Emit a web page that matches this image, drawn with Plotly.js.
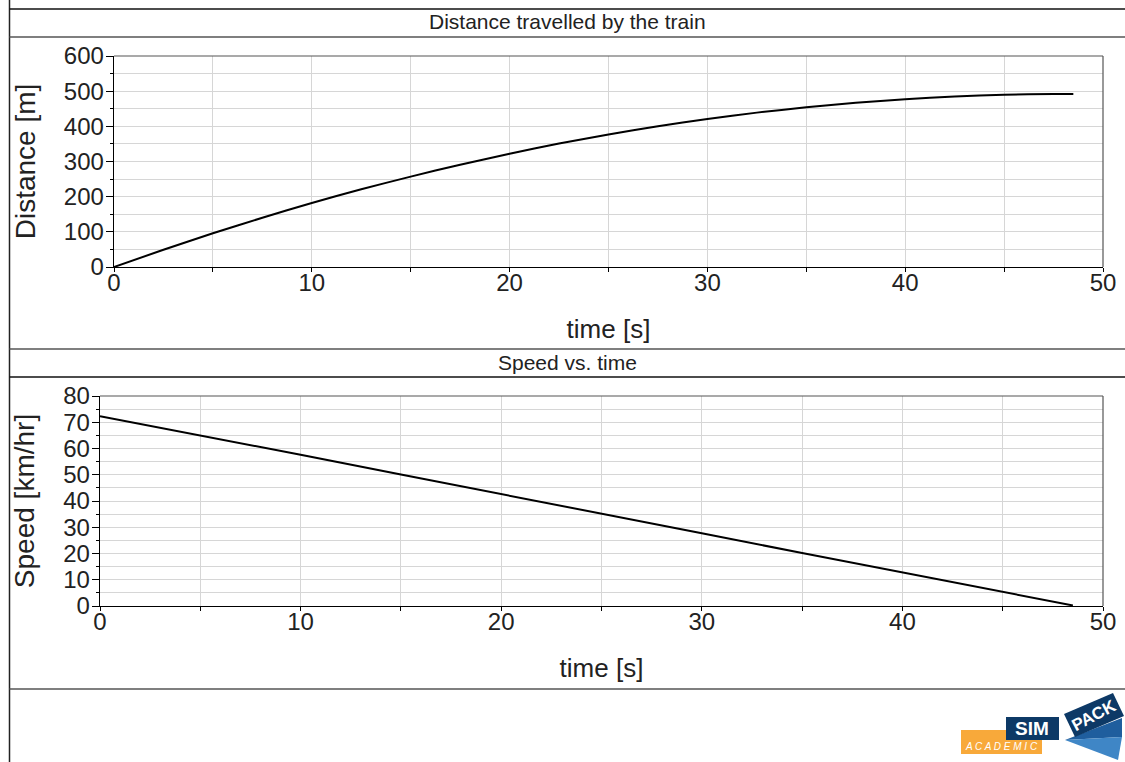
<!DOCTYPE html>
<html>
<head>
<meta charset="utf-8">
<script src="https://cdn.plot.ly/plotly-3.0.1.min.js"></script>
<style>
html,body{margin:0;padding:0;background:#fff;}
#chart{width:1125px;height:762px;}
</style>
</head>
<body>
<div id="chart"></div>
<script>
// ---- data ----
const timeDist = [0, 2.5, 5, 7.5, 10, 12.5, 15, 17.5, 20, 22.5, 25, 27.5, 30, 32.5, 35, 37.5, 40, 42.5, 45, 47.5, 48.5];
const distance = [0, 49, 96, 140, 182, 221, 257, 291, 322, 351, 377, 400, 421, 439, 454, 467, 477, 485, 490, 492, 492];
const timeSpeed = [0, 5, 10, 15, 20, 25, 30, 35, 40, 45, 48.5];
const speed = [72.3, 65.0, 57.6, 50.1, 42.7, 35.2, 27.7, 20.2, 12.7, 5.3, 0.2];
const topTitle = "Distance travelled by the train";
const bottomTitle = "Speed vs. time";
const xTitle = "time [s]";
const yTitleTop = "Distance [m]";
const yTitleBottom = "Speed [km/hr]";

const W = 1125, H = 762;
const px = x => x / W;
const py = y => 1 - y / H;

const FONT = "Liberation Sans, Arial, sans-serif";
const tickFont = {family: FONT, size: 24, color: "#222"};
const gridC = "#d6d6d6";

function xaxisDef(anchor, domain) {
  return {
    domain: domain, anchor: anchor, range: [0, 50], dtick: 10, tick0: 0,
    showline: true, linecolor: "#000", linewidth: 1.3,
    ticks: "outside", ticklen: 4, tickcolor: "#000", tickwidth: 1,
    showgrid: true, gridcolor: gridC, gridwidth: 1,
    minor: {dtick: 5, ticks: "outside", ticklen: 4, tickcolor: "#000", showgrid: true, gridcolor: gridC},
    zeroline: false, tickfont: tickFont, ticklabelstandoff: -10,
    title: {text: xTitle, font: {family: FONT, size: 26, color: "#222"}, standoff: 24},
    fixedrange: true
  };
}
function yaxisDef(anchor, domain, range, dtick, mdtick, title) {
  return {
    domain: domain, anchor: anchor, range: range, dtick: dtick, tick0: 0,
    showline: true, linecolor: "#000", linewidth: 1.3,
    ticks: "outside", ticklen: 7, tickcolor: "#000", tickwidth: 1,
    showgrid: true, gridcolor: gridC, gridwidth: 1,
    minor: {dtick: mdtick, ticks: "outside", ticklen: 3, tickcolor: "#000", showgrid: true, gridcolor: gridC},
    zeroline: false, tickfont: tickFont, ticklabelstandoff: -3,
    title: {text: title, font: {family: FONT, size: 28, color: "#222"}, standoff: 20},
    fixedrange: true
  };
}

const traces = [
  {x: timeDist, y: distance, xaxis: "x", yaxis: "y", type: "scatter", mode: "lines",
   line: {color: "#000", width: 2, shape: "spline", smoothing: 0.6}, hoverinfo: "x+y"},
  {x: timeSpeed, y: speed, xaxis: "x2", yaxis: "y2", type: "scatter", mode: "lines",
   line: {color: "#000", width: 2}, hoverinfo: "x+y"}
];

const line = (x0, y0, x1, y1, color, w) => ({type: "line", xref: "paper", yref: "paper",
  x0: px(x0), y0: py(y0), x1: px(x1), y1: py(y1), line: {color: color, width: w}});
const poly = (pts, color) => ({type: "path", xref: "paper", yref: "paper",
  path: "M " + pts.map(p => px(p[0]) + "," + py(p[1])).join(" L ") + " Z",
  fillcolor: color, line: {width: 0}});

const shapes = [
  line(9.5, 0, 9.5, 762, "#222", 1.5),
  line(9.5, 9, 1125, 9, "#111", 1.5),
  line(9.5, 37, 1125, 37, "#555", 1.5),
  line(9.5, 349, 1125, 349, "#555", 1.5),
  line(9.5, 377, 1125, 377, "#111", 1.5),
  line(9.5, 689, 1125, 689, "#555", 1.5),
  // plot frames (top / right)
  line(114, 56, 1103, 56, "#555", 1.2),
  line(1103, 56, 1103, 267, "#555", 1.2),
  line(100, 396, 1103, 396, "#555", 1.2),
  line(1103, 396, 1103, 606, "#555", 1.2),
  // logo
  poly([[961, 730], [1042, 730], [1042, 754], [961, 754]], "#f8a93a"),
  poly([[1006, 717], [1059, 717], [1059, 740], [1006, 740]], "#0d3966"),
  poly([[1065, 740], [1122, 718], [1122, 737]], "#1f5e9e"),
  poly([[1065, 740], [1122, 737], [1118, 760]], "#3f86c6"),
  poly([[1064, 714], [1113, 693], [1124, 716], [1075, 737]], "#0d3966")
];

const annotations = [
  {text: topTitle, x: px(567.5), y: py(22), xref: "paper", yref: "paper", showarrow: false,
   xanchor: "center", yanchor: "middle", font: {family: FONT, size: 21, color: "#222"}},
  {text: bottomTitle, x: px(567.5), y: py(362), xref: "paper", yref: "paper", showarrow: false,
   xanchor: "center", yanchor: "middle", font: {family: FONT, size: 21, color: "#222"}},
  {text: "<i>A C A D E M I C</i>", x: px(1001), y: py(746), xref: "paper", yref: "paper", showarrow: false,
   xanchor: "center", yanchor: "middle", font: {family: FONT, size: 10, color: "#fff"}},
  {text: "<b>SIM</b>", x: px(1032), y: py(728.5), xref: "paper", yref: "paper", showarrow: false,
   xanchor: "center", yanchor: "middle", font: {family: FONT, size: 19, color: "#fff"}},
  {text: "<b>PACK</b>", x: px(1094), y: py(715), xref: "paper", yref: "paper", showarrow: false,
   xanchor: "center", yanchor: "middle", textangle: -28, font: {family: FONT, size: 17, color: "#fff"}}
];

const layout = {
  width: W, height: H,
  margin: {l: 0, r: 0, t: 0, b: 0, pad: 0},
  paper_bgcolor: "#fff", plot_bgcolor: "#fff",
  showlegend: false,
  xaxis: xaxisDef("y", [px(114), px(1103)]),
  yaxis: yaxisDef("x", [py(267), py(56)], [0, 600], 100, 50, yTitleTop),
  xaxis2: xaxisDef("y2", [px(100), px(1103)]),
  yaxis2: yaxisDef("x2", [py(606), py(396)], [0, 80], 10, 5, yTitleBottom),
  shapes: shapes,
  annotations: annotations,
  font: {family: FONT}
};

Plotly.newPlot("chart", traces, layout, {displayModeBar: false, staticPlot: true});
</script>
</body>
</html>
